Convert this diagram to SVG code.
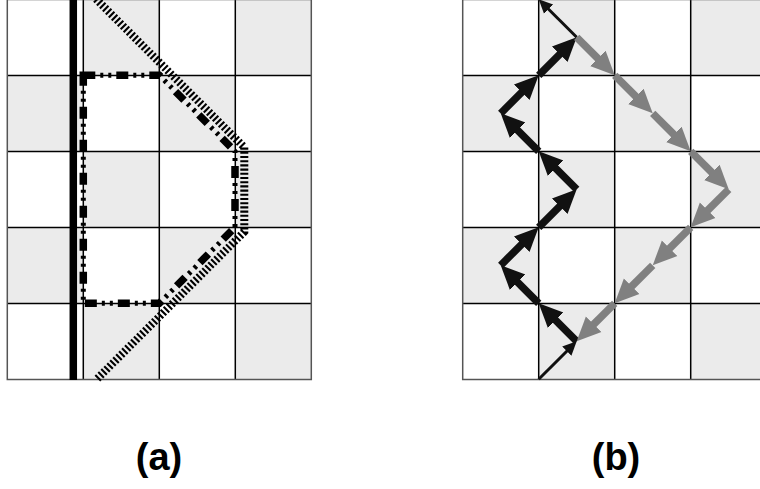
<svg xmlns="http://www.w3.org/2000/svg" width="760" height="489" viewBox="0 0 760 489">
<defs>
<style>
.cell{fill:#ebebeb}
.gl{stroke:#000;stroke-width:1.5;fill:none}
.bd{stroke:#555;stroke-width:1.5;fill:none}
.blk{stroke:#111;stroke-width:7.5;fill:none}
.thin{stroke:#111;stroke-width:3;fill:none}
.gry{stroke:#808080;stroke-width:7.5;fill:none}
.lbl{font-family:"Liberation Sans",Arial,sans-serif;font-weight:bold;font-size:38px;fill:#000;text-anchor:middle}
</style>
<marker id="ahB" markerUnits="userSpaceOnUse" markerWidth="26" markerHeight="26" viewBox="0 -13 26 26" refX="2" refY="0" orient="auto"><path d="M0,-11 L24,0 L0,11 Z" fill="#111"/></marker>
<marker id="ahT" markerUnits="userSpaceOnUse" markerWidth="16" markerHeight="16" viewBox="0 -8 16 16" refX="1" refY="0" orient="auto"><path d="M0,-6.5 L14,0 L0,6.5 Z" fill="#111"/></marker>
<marker id="ahG" markerUnits="userSpaceOnUse" markerWidth="26" markerHeight="26" viewBox="0 -13 26 26" refX="2" refY="0" orient="auto"><path d="M0,-11 L24,0 L0,11 Z" fill="#808080"/></marker>
<g id="board">
<rect class="cell" x="76" y="0" width="76" height="76"/>
<rect class="cell" x="228" y="0" width="76" height="76"/>
<rect class="cell" x="0" y="76" width="76" height="76"/>
<rect class="cell" x="152" y="76" width="76" height="76"/>
<rect class="cell" x="76" y="152" width="76" height="76"/>
<rect class="cell" x="228" y="152" width="76" height="76"/>
<rect class="cell" x="0" y="228" width="76" height="76"/>
<rect class="cell" x="152" y="228" width="76" height="76"/>
<rect class="cell" x="76" y="304" width="76" height="76"/>
<rect class="cell" x="228" y="304" width="76" height="76"/>
<path class="gl" d="M76,0V380M152,0V380M228,0V380M0,76H304M0,152H304M0,228H304M0,304H304"/>
<rect class="bd" x="0" y="0" width="304" height="380"/>
</g>
<path id="loopA" d="M83.3,75.3 H159.3 L235,151.3 V227.3 L159.3,303.3 H83.3 Z"/>
</defs>
<g id="grid-a"><use href="#board" x="7.3" y="-0.5"/></g>
<g id="grid-b"><use href="#board" x="462.7" y="-0.5"/></g>
<g id="connectors">
<g id="paths-a">
<line x1="73.3" y1="-2" x2="73.3" y2="380" stroke="#000" stroke-width="7.5"/>
<polyline points="96,-1 244.3,147.3 244.3,231.7 97,379" fill="none" stroke="#000" stroke-width="8" stroke-dasharray="2.1,2.1" stroke-linejoin="miter"/>
<use href="#loopA" fill="none" stroke="#000" stroke-width="7.5" stroke-dasharray="12,21"/>
<use href="#loopA" fill="none" stroke="#000" stroke-width="5" stroke-dasharray="0,17,3,5,3,5"/>
</g>
<g id="paths-b">
<line class="thin" x1="538.7" y1="379.3" x2="567.51" y2="350.49" marker-end="url(#ahT)"/>
<line class="blk" x1="576.7" y1="341.3" x2="554.26" y2="318.86" marker-end="url(#ahB)"/>
<line class="blk" x1="538.7" y1="303.3" x2="516.26" y2="280.86" marker-end="url(#ahB)"/>
<line class="blk" x1="500.7" y1="265.3" x2="523.14" y2="242.86" marker-end="url(#ahB)"/>
<line class="blk" x1="538.7" y1="227.3" x2="561.14" y2="204.86" marker-end="url(#ahB)"/>
<line class="blk" x1="576.7" y1="189.3" x2="554.26" y2="166.86" marker-end="url(#ahB)"/>
<line class="blk" x1="538.7" y1="151.3" x2="516.26" y2="128.86" marker-end="url(#ahB)"/>
<line class="blk" x1="500.7" y1="113.3" x2="523.14" y2="90.86" marker-end="url(#ahB)"/>
<line class="blk" x1="538.7" y1="75.3" x2="561.14" y2="52.86" marker-end="url(#ahB)"/>
<line class="thin" x1="576.7" y1="37.3" x2="547.89" y2="8.49" marker-end="url(#ahT)"/>
<line class="gry" x1="576.7" y1="37.3" x2="599.14" y2="59.74" marker-end="url(#ahG)"/>
<line class="gry" x1="614.7" y1="75.3" x2="637.14" y2="97.74" marker-end="url(#ahG)"/>
<line class="gry" x1="652.7" y1="113.3" x2="675.14" y2="135.74" marker-end="url(#ahG)"/>
<line class="gry" x1="690.7" y1="151.3" x2="713.14" y2="173.74" marker-end="url(#ahG)"/>
<line class="gry" x1="728.7" y1="189.3" x2="706.26" y2="211.74" marker-end="url(#ahG)"/>
<line class="gry" x1="690.7" y1="227.3" x2="668.26" y2="249.74" marker-end="url(#ahG)"/>
<line class="gry" x1="652.7" y1="265.3" x2="630.26" y2="287.74" marker-end="url(#ahG)"/>
<line class="gry" x1="614.7" y1="303.3" x2="592.26" y2="325.74" marker-end="url(#ahG)"/>
</g>
</g>
<g id="label-a"><text class="lbl" x="159" y="470">(a)</text></g>
<g id="label-b"><text class="lbl" x="616" y="470">(b)</text></g>
</svg>
